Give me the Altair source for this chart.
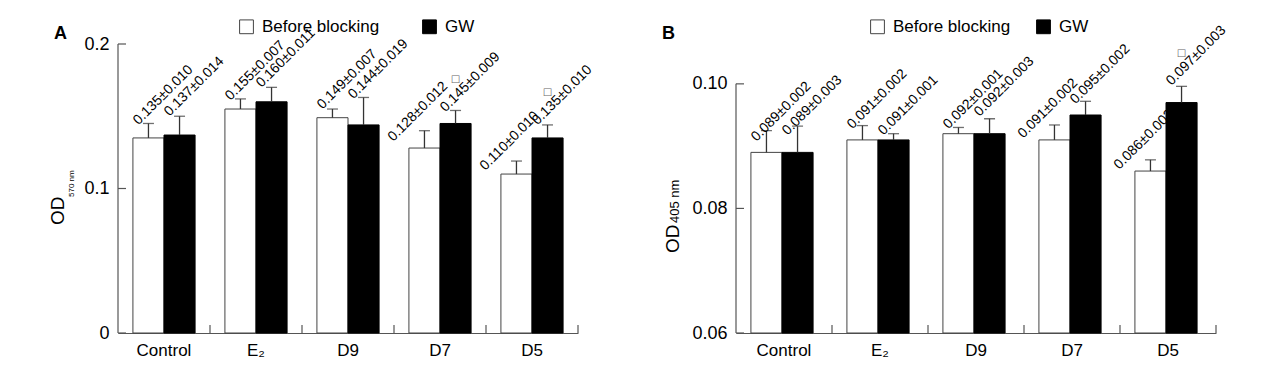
import altair as alt
import pandas as pd

FONT = "Liberation Sans"

groups = ["Control", "E₂", "D9", "D7", "D5"]
series = ["Before blocking", "GW"]

# Panel A (OD 570 nm): values as labelled
a_before_mean = [0.135, 0.155, 0.149, 0.128, 0.110]
a_before_err = [0.010, 0.007, 0.007, 0.012, 0.010]
a_gw_mean = [0.137, 0.160, 0.144, 0.145, 0.135]
a_gw_err = [0.014, 0.011, 0.019, 0.009, 0.010]
# error bars as drawn
a_before_err_drawn = [0.010, 0.007, 0.006, 0.012, 0.009]
a_gw_err_drawn = [0.013, 0.010, 0.019, 0.009, 0.009]
a_gw_sig = [0, 0, 0, 1, 1]

# Panel B (OD 405 nm)
b_before_mean = [0.089, 0.091, 0.092, 0.091, 0.086]
b_before_err = [0.002, 0.002, 0.001, 0.002, 0.002]
b_gw_mean = [0.089, 0.091, 0.092, 0.095, 0.097]
b_gw_err = [0.003, 0.001, 0.003, 0.002, 0.003]
b_before_err_drawn = [0.0035, 0.0023, 0.0010, 0.0024, 0.0018]
b_gw_err_drawn = [0.0042, 0.0010, 0.0024, 0.0022, 0.0026]
b_gw_sig = [0, 0, 0, 0, 1]

# groups whose "before" label is set further left to clear the taller GW bar
shifted_groups = ["D7", "D5"]


def build_df(bm, be, bed, gm, ge, ged, gsig):
    rows = []
    for i, g in enumerate(groups):
        rows.append(dict(group=g, series=series[0], mean=bm[i], err=be[i],
                         top_label=bm[i] + be[i], top_drawn=bm[i] + bed[i],
                         label=f"{bm[i]:.3f}±{be[i]:.3f}", sig=0,
                         shift=int(g in shifted_groups)))
        rows.append(dict(group=g, series=series[1], mean=gm[i], err=ge[i],
                         top_label=gm[i] + ge[i], top_drawn=gm[i] + ged[i],
                         label=f"{gm[i]:.3f}±{ge[i]:.3f}", sig=gsig[i],
                         shift=0))
    return pd.DataFrame(rows)


def panel(df, domain, ticks, fmt, width, height, letter, letter_x,
          sub_text, title_x, od_y, sub_x, sub_y, sub_size,
          legend_x, legend_y, legend_colpad):
    lo, hi_scale = domain
    yscale = alt.Scale(domain=[lo, hi_scale], zero=False, nice=False)
    yaxis = alt.Axis(values=ticks, format=fmt, title=None,
                     domain=False, ticks=False, grid=False,
                     labelFontSize=18, labelFont=FONT,
                     labelColor="black", labelPadding=9)
    xaxis = alt.Axis(title=None, labelAngle=0, labelFontSize=17,
                     labelFont=FONT, labelColor="black",
                     labelPadding=9, ticks=False,
                     domainColor="#555", domainWidth=1.2)
    xscale = alt.Scale(paddingInner=0, paddingOuter=0)
    xenc = alt.X("group:N", sort=groups, scale=xscale, axis=xaxis)
    xoff = alt.XOffset("series:N", sort=series,
                       scale=alt.Scale(paddingInner=0, paddingOuter=0.48))

    leg = alt.Legend(orient="none", legendX=legend_x,
                     legendY=legend_y, direction="horizontal",
                     title=None, symbolType="square",
                     symbolSize=190, symbolStrokeWidth=1,
                     labelFontSize=17, labelFont=FONT,
                     labelColor="black", labelOffset=7,
                     columnPadding=legend_colpad,
                     padding=0, labelLimit=300)

    base = alt.Chart(df)
    bars = base.mark_bar(strokeWidth=1).encode(
        x=xenc, xOffset=xoff,
        y=alt.Y("mean:Q", scale=yscale, axis=yaxis),
        y2=alt.datum(lo),
        fill=alt.Fill("series:N", sort=series,
                      scale=alt.Scale(domain=series, range=["white", "black"]),
                      legend=leg),
        stroke=alt.Stroke("series:N", sort=series,
                          scale=alt.Scale(domain=series, range=["#444", "#000"]),
                          legend=leg),
    )
    whisk = base.mark_rule(color="#333", strokeWidth=1.3).encode(
        x=xenc, xOffset=xoff,
        y=alt.Y("mean:Q", scale=yscale, axis=yaxis), y2="top_drawn:Q")
    cap = base.mark_tick(color="#333", thickness=1.3, size=11).encode(
        x=xenc, xOffset=xoff,
        y=alt.Y("top_drawn:Q", scale=yscale, axis=yaxis))
    lab_kw = dict(angle=315, align="left", baseline="alphabetic",
                  fontSize=14, font=FONT, color="black")
    labels = base.transform_filter("datum.shift == 0").mark_text(
        dx=-8.5, dy=-5.6, **lab_kw).encode(
        x=xenc, xOffset=xoff,
        y=alt.Y("top_label:Q", scale=yscale, axis=yaxis), text="label:N")
    labels_s = base.transform_filter("datum.shift == 1").mark_text(
        dx=-30, dy=-14, **lab_kw).encode(
        x=xenc, xOffset=xoff,
        y=alt.Y("top_label:Q", scale=yscale, axis=yaxis), text="label:N")
    sig = base.transform_filter("datum.sig == 1").mark_text(
        text="□", fontSize=10, dy=-31, color="#666", font="DejaVu Sans").encode(
        x=xenc, xOffset=xoff,
        y=alt.Y("top_label:Q", scale=yscale, axis=yaxis))

    tick_df = pd.DataFrame({"v": ticks})
    yticks = alt.Chart(tick_df).mark_rule(color="#555", strokeWidth=1.2).encode(
        y=alt.Y("v:Q", scale=yscale, axis=yaxis),
        x=alt.value(0), x2=alt.value(8))
    yline = alt.Chart(pd.DataFrame({"a": [ticks[0]], "b": [ticks[-1]]})).mark_rule(
        color="#555", strokeWidth=1.2).encode(
        y=alt.Y("a:Q", scale=yscale, axis=yaxis), y2="b:Q", x=alt.value(0))
    gdf = pd.DataFrame({"group": groups})
    xticks = alt.Chart(gdf).mark_rule(color="#555", strokeWidth=1.2).encode(
        x=alt.X("group:N", sort=groups, scale=xscale, axis=xaxis, bandPosition=1),
        y=alt.value(height), y2=alt.value(height - 8))

    txt = pd.DataFrame({"t": [letter]})
    let = alt.Chart(txt).mark_text(fontSize=18, fontWeight="bold", font=FONT,
                                   align="left", baseline="alphabetic",
                                   color="black").encode(
        text="t:N", x=alt.value(letter_x), y=alt.value(-5))
    od = alt.Chart(pd.DataFrame({"t": ["OD"]})).mark_text(
        fontSize=19, font=FONT, angle=270, align="left", baseline="alphabetic",
        color="black").encode(text="t:N", x=alt.value(title_x), y=alt.value(od_y))
    sub = alt.Chart(pd.DataFrame({"t": [sub_text]})).mark_text(
        fontSize=sub_size, font=FONT, angle=270, align="left",
        baseline="alphabetic", color="black").encode(
        text="t:N", x=alt.value(sub_x), y=alt.value(sub_y))

    return alt.layer(bars, whisk, cap, labels, labels_s, sig, yticks, yline,
                     xticks, let, od, sub).properties(width=width, height=height)


dfa = build_df(a_before_mean, a_before_err, a_before_err_drawn,
               a_gw_mean, a_gw_err, a_gw_err_drawn, a_gw_sig)
dfb = build_df(b_before_mean, b_before_err, b_before_err_drawn,
               b_gw_mean, b_gw_err, b_gw_err_drawn, b_gw_sig)

pa = panel(dfa, (0.0, 0.2), [0.0, 0.1, 0.2], ".1~f", 460, 289, "A", -64,
           "570 nm", -54, 181, -44, 153, 8, 120, -26, 40)
pb = panel(dfb, (0.06, 0.1064), [0.06, 0.08, 0.10], ".2f", 480, 289, "B", -74,
           "405 nm", -57, 209, -57, 179, 13, 133, -26, 23)

chart = alt.hconcat(pa, pb, spacing=67).resolve_scale(
    fill="independent", stroke="independent").properties(
    padding={"left": 41, "top": 10, "right": 0, "bottom": 0}).configure(
    font=FONT).configure_view(stroke=None)

chart.save("out.html", embed_options={"renderer": "svg", "actions": False})
